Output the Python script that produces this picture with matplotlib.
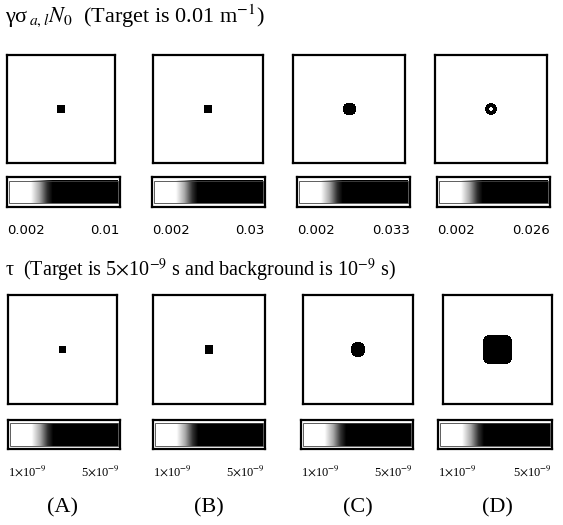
import numpy as np
import matplotlib.pyplot as plt
from matplotlib.colors import LinearSegmentedColormap

plt.rcParams['font.family'] = ['Liberation Serif', 'DejaVu Serif']
plt.rcParams['mathtext.fontset'] = 'stix'

# data
cases = ['(A)', '(B)', '(C)', '(D)']
mu_min = [0.002, 0.002, 0.002, 0.002]
mu_max = [0.01, 0.03, 0.033, 0.026]
mu_labels_lo = ['0.002', '0.002', '0.002', '0.002']
mu_labels_hi = ['0.01', '0.03', '0.033', '0.026']
tau_min = [1e-9, 1e-9, 1e-9, 1e-9]
tau_max = [5e-9, 5e-9, 5e-9, 5e-9]
tau_labels_lo = [r'1$\times$10$^{-9}$'] * 4
tau_labels_hi = [r'5$\times$10$^{-9}$'] * 4

# target size in image cells (half width), shape exponent, inner hole
mu_half = [3.5, 3.5, 6.0, 6.0]
mu_shape = [np.inf, np.inf, 2.5, 2]
mu_hole = [0, 0, 0, 1.8]
tau_half = [3.0, 3.5, 7.0, 14.0]
tau_shape = [np.inf, np.inf, 2.5, 5]

W, H = 563, 525
fig = plt.figure(figsize=(W / 100, H / 100), dpi=100)

def ax_px(x0, y0, x1, y1):
    return fig.add_axes([x0 / W, 1 - y1 / H, (x1 - x0) / W, (y1 - y0) / H])

cmap = LinearSegmentedColormap.from_list(
    'bw', [(0, 'white'), (0.2, 'white'), (0.28, '#a8a8a8'), (0.35, '#303030'),
           (0.4, 'black'), (1, 'black')])

n = 108
yy, xx = np.mgrid[0:n, 0:n] - (n - 1) / 2

def target_img(lo, hi, half, p, hole):
    if np.isinf(p):
        d = np.maximum(np.abs(xx), np.abs(yy))
    else:
        d = (np.abs(xx) ** p + np.abs(yy) ** p) ** (1 / p)
    img = np.full((n, n), lo)
    img[(d <= half) & (d >= hole)] = hi
    return img

def panel(box, img, lo, hi):
    ax = ax_px(*box)
    ax.imshow(img, cmap=cmap, vmin=lo, vmax=hi, interpolation='nearest',
              extent=(0, 1, 0, 1), aspect='auto')
    ax.set_xticks([]); ax.set_yticks([])
    for s in ax.spines.values():
        s.set_linewidth(1.6)

def cbar(box, lo, hi, lab_lo, lab_hi, ty, fs, fam):
    ax = ax_px(*box)
    grad = np.linspace(lo, hi, 256)[None, :]
    ax.imshow(grad, cmap=cmap, vmin=lo, vmax=hi, aspect='auto',
              extent=(0.02, 0.98, 0.12, 0.88))
    ax.set_xlim(0, 1); ax.set_ylim(0, 1)
    ax.add_patch(plt.Rectangle((0.02, 0.12), 0.96, 0.76, fill=False,
                               lw=0.6, ec='#444444'))
    ax.set_xticks([]); ax.set_yticks([])
    for s in ax.spines.values():
        s.set_linewidth(1.6)
    x0, x1 = box[0], box[2]
    fig.text(x0 / W, 1 - ty / H, lab_lo, ha='left', va='center',
             fontsize=fs, family=fam)
    fig.text(x1 / W, 1 - ty / H, lab_hi, ha='right', va='center',
             fontsize=fs, family=fam)

top_boxes = [(7, 55, 115, 163), (153, 55, 263, 163), (293, 55, 405, 163), (435, 55, 547, 163)]
top_bars = [(7, 177, 120, 207), (152, 177, 265, 207), (297, 177, 410, 207), (437, 177, 550, 207)]
bot_boxes = [(8, 295, 117, 404), (153, 295, 265, 404), (303, 295, 413, 404), (443, 295, 552, 404)]
bot_bars = [(8, 420, 120, 449), (153, 420, 265, 449), (301, 420, 413, 449), (438, 420, 552, 449)]

for i in range(4):
    panel(top_boxes[i], target_img(mu_min[i], mu_max[i], mu_half[i], mu_shape[i], mu_hole[i]),
          mu_min[i], mu_max[i])
    cbar(top_bars[i], mu_min[i], mu_max[i], mu_labels_lo[i], mu_labels_hi[i], 230, 9.5,
         ['DejaVu Sans'])
    panel(bot_boxes[i], target_img(tau_min[i], tau_max[i], tau_half[i], tau_shape[i], 0),
          tau_min[i], tau_max[i])
    cbar(bot_bars[i], tau_min[i], tau_max[i], tau_labels_lo[i], tau_labels_hi[i], 471, 9,
         ['Liberation Serif'])
    cx = (bot_boxes[i][0] + bot_boxes[i][2]) / 2
    fig.text(cx / W, 1 - 508 / H, cases[i], ha='center', va='center', fontsize=16)

fig.text(5 / W, 1 - 16 / H, r'γσ$_{\,a,l}$$N_0$  (Target is 0.01 m$^{-1}$)',
         ha='left', va='center', fontsize=16)
fig.text(5 / W, 1 - 270 / H,
         r'τ  (Target is 5$\times$10$^{-9}$ s and background is 10$^{-9}$ s)',
         ha='left', va='center', fontsize=14.5)

fig.savefig('out.png', dpi=100)
